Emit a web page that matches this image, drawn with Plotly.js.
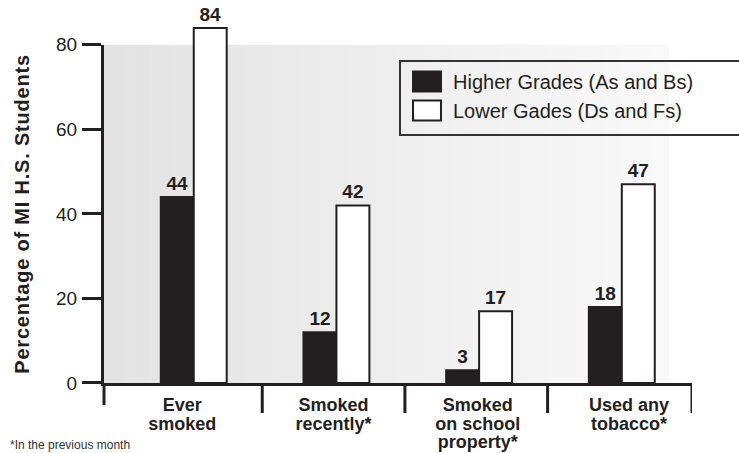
<!DOCTYPE html>
<html>
<head>
<meta charset="utf-8">
<script src="https://cdn.plot.ly/plotly-3.0.1.min.js"></script>
<style>
  html, body { margin: 0; padding: 0; background: #ffffff; }
  #chart { width: 739px; height: 453px; }
  #chart .ytitle { letter-spacing: 0.8px; }
</style>
</head>
<body>
<div id="chart"></div>
<script>
// Tobacco use among Michigan high-school students, by school grades
const categories = ['Ever<br>smoked', 'Smoked<br>recently*', 'Smoked<br>on school<br>property*', 'Used any<br>tobacco*'];
const seriesNames = ['Higher Grades (As and Bs)', 'Lower Gades (Ds and Fs)'];
const higherGrades = [44, 12, 3, 18];
const lowerGrades = [84, 42, 17, 47];
const yTickValues = [0, 20, 40, 60, 80];
const footnote = '*In the previous month';

const INK = '#231f20';
const FONT = 'Liberation Sans, Arial, Helvetica, sans-serif';

// The visible value axis runs 0-80; the bars sit on a hidden twin axis with
// the same scale plus headroom, so the tallest bar can rise above the frame.
const AXIS_TOP = 80;
const BAR_TOP = 88;
const AXIS_DOMAIN_TOP = AXIS_TOP / BAR_TOP;

const xIndex = categories.map((_, i) => i);

const barText = { family: FONT, size: 19, color: INK, weight: 'bold' };
const traces = [
  {
    type: 'bar',
    name: seriesNames[0],
    x: xIndex,
    y: higherGrades,
    yaxis: 'y2',
    marker: { color: INK, line: { color: INK, width: 2 } },
    text: higherGrades.map(String),
    textposition: 'outside',
    textfont: barText,
    cliponaxis: false,
    hoverinfo: 'skip'
  },
  {
    type: 'bar',
    name: seriesNames[1],
    x: xIndex,
    y: lowerGrades,
    yaxis: 'y2',
    marker: { color: '#ffffff', line: { color: INK, width: 2 } },
    text: lowerGrades.map(String),
    textposition: 'outside',
    textfont: barText,
    cliponaxis: false,
    hoverinfo: 'skip'
  },
  // empty trace that carries the visible 0-80 value axis
  {
    type: 'scatter', mode: 'markers',
    x: [], y: [],
    xaxis: 'x', yaxis: 'y',
    showlegend: false, hoverinfo: 'skip'
  }
];

const plotH = 453 - 11 - 70;
const plotW = 739 - 104 - 47;
const px2x = px => (px - 104) / plotW;
const px2y = py => (383 - py) / plotH;

// Horizontal grey-to-white shading inside the 0-80 frame
const shapes = [];
const STRIPS = 60;
const shadeEnd = 0.96;
for (let i = 0; i < STRIPS; i++) {
  const t = i / (STRIPS - 1);
  const g = Math.round(227 + (249 - 227) * t);
  shapes.push({
    type: 'rect', layer: 'below', xref: 'paper', yref: 'paper',
    x0: shadeEnd * i / STRIPS, x1: shadeEnd * (i + 1) / STRIPS + 0.001,
    y0: 0, y1: AXIS_DOMAIN_TOP,
    line: { width: 0 }, fillcolor: `rgb(${g},${g},${g})`
  });
}

// value axis continues a little below zero
shapes.push({
  type: 'line', xref: 'paper', yref: 'paper',
  x0: 0, x1: 0, y0: -22 / plotH, y1: 0,
  line: { color: INK, width: 3 }
});

// Category separators hanging below the baseline
[0.48, 1.48, 2.48, 3.492].forEach(x => {
  shapes.push({
    type: 'line', xref: 'x', yref: 'paper',
    x0: x, x1: x, y0: 0, y1: -30 / plotH,
    line: { color: INK, width: 3 }
  });
});

// legend frame, running off the right-hand edge
shapes.push({
  type: 'rect', xref: 'paper', yref: 'paper', layer: 'above',
  x0: px2x(400), x1: px2x(760), y0: px2y(135), y1: px2y(61),
  line: { color: '#333333', width: 2 }, fillcolor: 'rgba(0,0,0,0)'
});

const layout = {
  width: 739,
  height: 453,
  margin: { l: 104, r: 47, t: 11, b: 70, pad: 0, autoexpand: false },
  paper_bgcolor: '#ffffff',
  plot_bgcolor: 'rgba(0,0,0,0)',
  font: { family: FONT, color: INK },
  barmode: 'group',
  bargap: 0.538,
  bargroupgap: 0,
  showlegend: true,
  legend: {
    x: px2x(401), y: px2y(62), xanchor: 'left', yanchor: 'top',
    bgcolor: 'rgba(0,0,0,0)',
    borderwidth: 0,
    font: { family: FONT, size: 20, color: INK },
    itemwidth: 42,
    traceorder: 'normal'
  },
  xaxis: {
    range: [-0.629, 3.492],
    anchor: 'y',
    tickmode: 'array',
    tickvals: [-0.08, 0.98, 1.99, 3.05],
    ticktext: categories,
    ticks: '',
    showline: true, linewidth: 3, linecolor: INK,
    showgrid: false, zeroline: false,
    tickfont: { family: FONT, size: 18, color: INK, weight: 'bold' },
    ticklabelstandoff: 3,
    fixedrange: true
  },
  yaxis: {
    domain: [0, AXIS_DOMAIN_TOP],
    range: [0, AXIS_TOP],
    anchor: 'x',
    tickmode: 'array',
    tickvals: yTickValues,
    ticks: 'outside', ticklen: 19, tickwidth: 3, tickcolor: INK,
    showline: true, linewidth: 3, linecolor: INK,
    showgrid: false, zeroline: false,
    tickfont: { family: FONT, size: 19, color: INK },
    ticklabelstandoff: 1,
    title: {
      text: 'Percentage of MI H.S. Students',
      font: { family: FONT, size: 20, color: INK, weight: 'bold' },
      standoff: 22
    },
    fixedrange: true
  },
  yaxis2: {
    domain: [0, 1],
    range: [0, BAR_TOP],
    anchor: 'x',
    visible: false,
    showgrid: false, zeroline: false,
    fixedrange: true
  },
  shapes: shapes,
  annotations: [
    {
      text: footnote, xref: 'paper', yref: 'paper',
      x: px2x(8), y: px2y(436),
      xanchor: 'left', yanchor: 'top', showarrow: false,
      font: { family: FONT, size: 12, color: '#333333' }
    }
  ]
};

Plotly.newPlot('chart', traces, layout, { displayModeBar: false, staticPlot: true }).then(gd => {
  // wider legend swatches, keeping Plotly's own placement
  gd.querySelectorAll('.legendpoints path').forEach(p => {
    const base = p.getAttribute('transform') || '';
    p.setAttribute('transform', base + ' scale(2.33,1.67)');
    p.style.vectorEffect = 'non-scaling-stroke';
  });
  // tighter line spacing for the multi-line category labels
  gd.querySelectorAll('.xtick text tspan.line').forEach(t => {
    const dy = parseFloat(t.getAttribute('dy'));
    if (dy) t.setAttribute('dy', (dy / 1.3 * 1.05).toFixed(3) + 'em');
  });
});
</script>
</body>
</html>
